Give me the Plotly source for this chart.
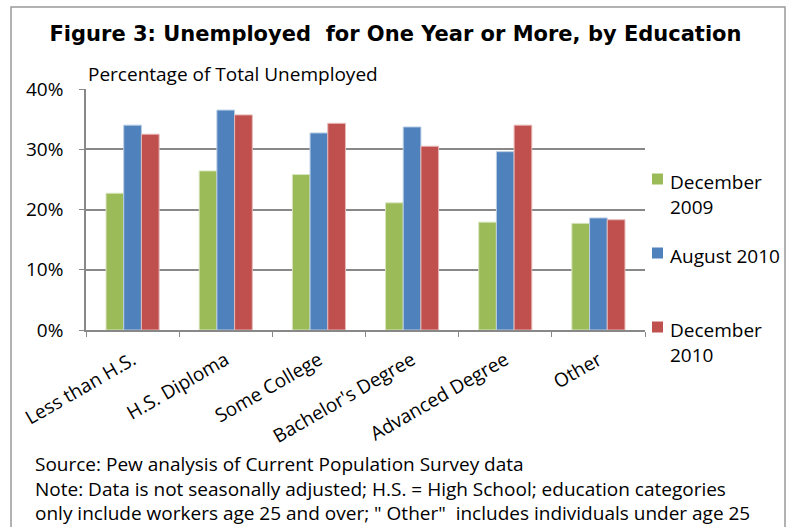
import plotly.graph_objects as go

categories = ["Less than H.S.", "H.S. Diploma", "Some College", "Bachelor's Degree", "Advanced Degree", "Other"]
series_names = ["December<br>2009", "August 2010", "December<br>2010"]
dec_2009 = [22.7, 26.4, 25.8, 21.1, 17.9, 17.7]
aug_2010 = [34.0, 36.5, 32.7, 33.7, 29.6, 18.6]
dec_2010 = [32.5, 35.7, 34.3, 30.5, 34.0, 18.3]
y_ticks = [0, 10, 20, 30, 40]
y_tick_labels = ["0%", "10%", "20%", "30%", "40%"]
colors = ["#9BBB59", "#4F81BD", "#C0504D"]
outline = ["#D7E4BD", "#B9CDE5", "#E6B9B8"]

W, H = 791, 527
L, R, T, B = 86, 146, 89, 197
pw, ph = W - L - R, H - T - B

def px_x(x):
    return (x - L) / pw

def px_y(y):
    return (H - B - y) / ph

FONT = "Open Sans"
fig = go.Figure()
for i, (name, vals) in enumerate(zip(series_names, [dec_2009, aug_2010, dec_2010])):
    fig.add_trace(go.Bar(
        x=categories, y=vals, name=name,
        marker=dict(color=colors[i], line=dict(color=outline[i], width=1)),
        showlegend=False,
    ))

fig.update_layout(
    width=W, height=H,
    margin=dict(l=L, r=R, t=T, b=B),
    paper_bgcolor="white", plot_bgcolor="white",
    barmode="group", bargap=0.43, bargroupgap=0,
    font=dict(family=FONT, size=18, color="black"),
    title=dict(text="<b>Figure 3: Unemployed  for One Year or More, by Education</b>",
               x=0.5, xref="container", xanchor="center",
               y=1 - 34 / H, yref="container", yanchor="middle",
               font=dict(family="DejaVu Sans", size=21, color="black")),
    showlegend=False,
    xaxis=dict(type="category", tickangle=-30, showline=True, linecolor="#888888", linewidth=1.5,
               ticks="outside", tickson="boundaries", ticklen=5, tickcolor="#888888",
               tickfont=dict(family=FONT, size=19), showgrid=False, ticklabelstandoff=10),
    yaxis=dict(range=[0, 40], tickvals=y_ticks, ticktext=y_tick_labels, showline=True,
               linecolor="#888888", linewidth=1.5, ticks="outside", ticklen=5, tickcolor="#888888",
               showgrid=True, gridcolor="#888888", gridwidth=1.5, zeroline=False,
               tickfont=dict(family=FONT, size=19), ticklabelstandoff=12),
)

# legend (drawn manually to match the reference's spacing)
for i, name in enumerate(series_names):
    cy = 179 + 74 * i
    fig.add_shape(type="rect", xref="paper", yref="paper",
                  x0=px_x(652), x1=px_x(663), y0=px_y(cy + 5.5), y1=px_y(cy - 5.5),
                  fillcolor=colors[i], line=dict(width=0))
    fig.add_annotation(text=name, xref="paper", yref="paper",
                       x=px_x(668), y=px_y(cy - 12.5), xanchor="left", yanchor="top",
                       align="left", showarrow=False, font=dict(family=FONT, size=19))

fig.add_annotation(text="Percentage of Total Unemployed", xref="paper", yref="paper",
                   x=0, y=px_y(74), xanchor="left", yanchor="middle", showarrow=False,
                   font=dict(family=FONT, size=19))

notes = ["Source: Pew analysis of Current Population Survey data",
         "Note: Data is not seasonally adjusted; H.S. = High School; education categories",
         "only include workers age 25 and over; \" Other\"  includes individuals under age 25"]
fig.add_annotation(text="<br>".join(notes), xref="paper", yref="paper",
                   x=px_x(33), y=px_y(449), xanchor="left", yanchor="top", align="left",
                   showarrow=False, font=dict(family=FONT, size=19))

fig.add_shape(type="rect", xref="paper", yref="paper",
              x0=px_x(11), x1=px_x(785), y0=px_y(540), y1=px_y(7),
              line=dict(color="#999999", width=1.5), layer="below")

fig.write_html("out.html")
